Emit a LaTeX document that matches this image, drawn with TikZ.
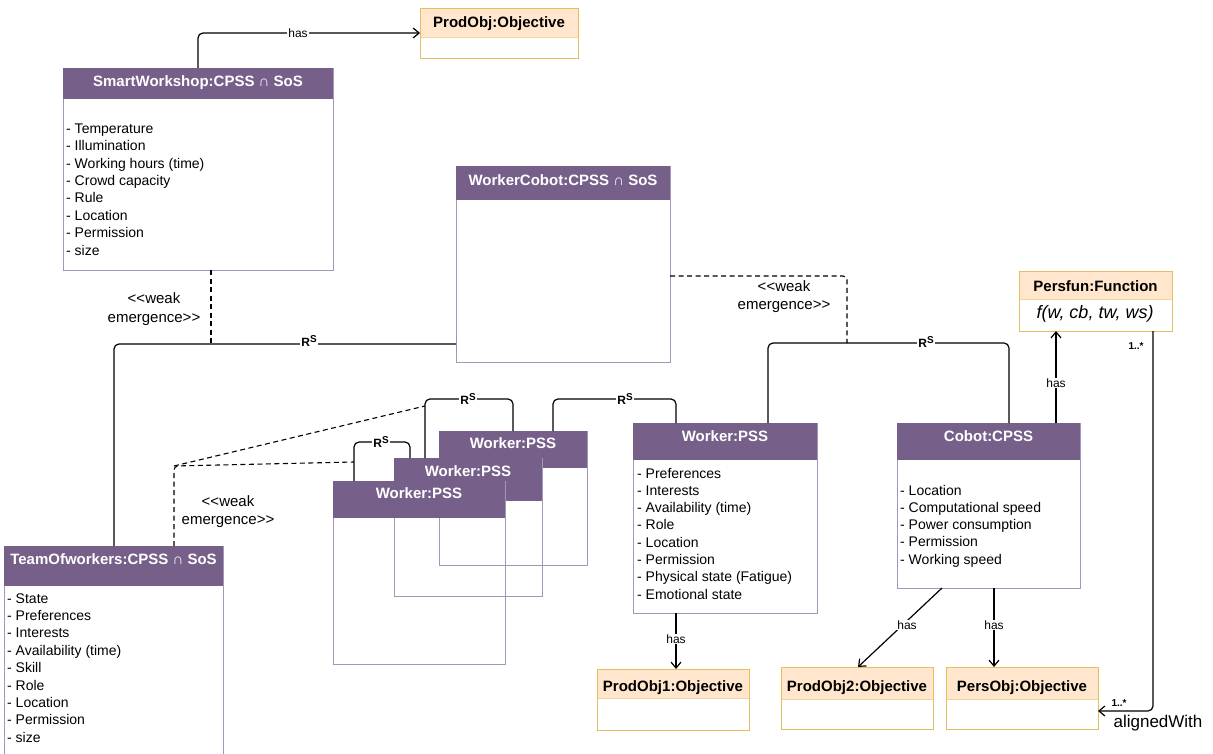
\documentclass[tikz,border=0pt]{standalone}
\usepackage{fontspec}
\setmainfont{Liberation Sans}
\usetikzlibrary{arrows.meta,calc}
\definecolor{hdrp}{HTML}{76608A}
\definecolor{bstroke}{HTML}{A396B8}
\definecolor{objfill}{HTML}{FFE6CC}
\definecolor{objstroke}{HTML}{E3BE62}
\definecolor{objsep}{HTML}{F3D3A0}
\newcommand{\fattr}{\fontsize{14}{17}\selectfont}
\newcommand{\fttl}{\bfseries\fontsize{15}{18}\selectfont}
\newcommand{\rsup}{\textbf{R}\raisebox{4.5pt}{\fontsize{10}{10}\selectfont\textbf{S}}}
\newcommand{\umlbox}[8]{%
  \node[bodybox, minimum width={#4-#2}, minimum height={#5-#3}] (#1) at (#2,#3) {};
  \fill[hdrp] (#2,#3) rectangle (#4,#6);
  \node[ttl] (#1-t) at ({(#2+#4)/2},#8) {#7};
}
\newcommand{\objbox}[8]{%
  \fill[objfill] (#2,#3) rectangle (#4,#6);
  \draw[objsep, line width=0.8pt] (#2,#6) -- (#4,#6);
  \node[objbody, minimum width={#4-#2}, minimum height={#5-#3}] (#1) at (#2,#3) {};
  \node[objttl] (#1-t) at ({(#2+#4)/2},#8) {#7};
}
\tikzset{
  bodybox/.style={draw=bstroke, line width=0.8pt, anchor=north west, inner sep=0pt, outer sep=0pt},
  objbody/.style={draw=objstroke, line width=0.9pt, anchor=north west, inner sep=0pt, outer sep=0pt},
  ttl/.style={text=white, font=\fttl, anchor=base, inner sep=0pt},
  objttl/.style={text=black, font=\fttl, anchor=base, inner sep=0pt},
  attr/.style={font=\fattr, anchor=base west, inner sep=0pt},
  conn/.style={line width=1.2pt, rounded corners=5pt},
  arr/.style={conn, -{Straight Barb[length=6pt,width=10pt,line width=1.2pt]}},
  dsh/.style={line width=1.1pt, dash pattern=on 5pt off 3.5pt, rounded corners=4pt},
  haslbl/.style={font=\fontsize{12}{14}\selectfont, fill=white, inner sep=1pt},
  rslbl/.style={font=\fontsize{12}{14}\selectfont, fill=white, inner sep=1.5pt},
  weak/.style={font=\fontsize{15}{18.5}\selectfont, align=center, inner sep=0pt},
  mult/.style={font=\bfseries\fontsize{10}{11}\selectfont, inner sep=0pt},
}
\begin{document}
\begin{tikzpicture}[x=1pt,y=-1pt]
\clip (0,0) rectangle (1213,754);
\fill[white] (0,0) rectangle (1213,754);

% ---- class boxes ----
\umlbox{sw}{63}{68}{333}{270}{99}{SmartWorkshop:CPSS ∩ SoS}{86.5}
\umlbox{wc}{456}{166}{670}{362}{200}{WorkerCobot:CPSS ∩ SoS}{185.5}
\umlbox{team}{4}{546}{223}{770}{586}{TeamOfworkers:CPSS ∩ SoS}{564.5}
\umlbox{bw}{633}{423}{817}{613}{460}{Worker:PSS}{441.5}
\umlbox{w3}{439}{431}{587}{565}{468}{Worker:PSS}{448.5}
\umlbox{w2}{394}{458}{542}{596}{501}{Worker:PSS}{476.5}
\umlbox{w1}{333}{481}{505}{664}{518}{Worker:PSS}{498.5}
\umlbox{cobot}{897}{423}{1080}{588}{460}{Cobot:CPSS}{441.5}

% ---- objective boxes ----
\objbox{prodobj}{420}{8}{578}{58}{37}{ProdObj:Objective}{27.5}
\objbox{pf}{1019}{271}{1172}{331}{299}{Persfun:Function}{291.5}
\objbox{po1}{597}{669}{749}{730}{698}{ProdObj1:Objective}{691.5}
\objbox{po2}{781}{667}{933}{729}{699}{ProdObj2:Objective}{691.5}
\objbox{pso}{946}{667}{1098}{729}{699}{PersObj:Objective}{691.5}
\node[font=\itshape\fontsize{18}{20}\selectfont, inner sep=0pt] (pf-f) at (1095,314) {f(w, cb, tw, ws)};

% ---- attributes ----
\foreach \t [count=\i from 0] in {- Temperature,- Illumination,- Working hours (time),- Crowd capacity,- Rule,- Location,- Permission,- size}
  \node[attr] (sw-a\i) at (66,{133.3+17.4*\i}) {\t};
\foreach \t [count=\i from 0] in {- Preferences,- Interests,- Availability (time),- Role,- Location,- Permission,- Physical state (Fatigue),- Emotional state}
  \node[attr] (bw-a\i) at (637,{478+17.3*\i}) {\t};
\foreach \t [count=\i from 0] in {- Location,- Computational speed,- Power consumption,- Permission,- Working speed}
  \node[attr] (cobot-a\i) at (900,{495+17.25*\i}) {\t};
\foreach \t [count=\i from 0] in {- State,- Preferences,- Interests,- Availability (time),- Skill,- Role,- Location,- Permission,- size}
  \node[attr] (team-a\i) at (7,{603+17.4*\i}) {\t};

% ---- junction coordinates ----
\coordinate (swjoin) at (211,344);
\coordinate (wcjoin) at (847,343);
\coordinate (tj) at (174,466);
\coordinate (j1) at (354,462);
\coordinate (j2) at (425,406);

% ---- connectors ----
\draw[arr] ([xshift=135pt]sw.north west) |- (prodobj.west);
\node[haslbl] (l-has0) at (298,33) {has};

\draw[conn] ([xshift=110pt]team.north west) |- ([yshift=-178pt]wc.north west);
\node[rslbl] (l-rs0) at (309,341) {\rsup};
\draw[dsh] ([xshift=148pt]sw.south west) -- (swjoin);
\node[weak] (l-we0) at (154,309) {<\kern0pt<weak\\emergence>\kern0pt>};

\draw[conn] ([xshift=135pt]bw.north west) -- ++(0,-80) -| ([xshift=112pt]cobot.north west);
\node[rslbl] (l-rs1) at (926,342) {\rsup};
\draw[dsh] ([yshift=-110pt]wc.north east) -| (wcjoin);
\node[weak] (l-we1) at (784,296.5) {<\kern0pt<weak\\emergence>\kern0pt>};

\draw[conn] ([xshift=21pt]w1.north west) -- ++(0,-39) -| ([xshift=16pt]w2.north west);
\node[rslbl] (l-rs2) at (381,442) {\rsup};
\draw[conn] ([xshift=31pt]w2.north west) -- ++(0,-59) -| ([xshift=74pt]w3.north west);
\node[rslbl] (l-rs3) at (468,399) {\rsup};
\draw[conn] ([xshift=114pt]w3.north west) -- ++(0,-32) -| ([xshift=43pt]bw.north west);
\node[rslbl] (l-rs4) at (625,399) {\rsup};

\draw[dsh] ([xshift=170pt]team.north west) -- (tj) -- (j1);
\draw[dsh] (tj) -- (j2);
\node[weak] (l-we2) at (228,511.5) {<\kern0pt<weak\\emergence>\kern0pt>};

\draw[arr] ([xshift=43pt]bw.south west) -- ([xshift=79pt]po1.north west);
\node[haslbl] (l-has1) at (676,639) {has};

\draw[arr] ([xshift=45pt]cobot.south west) -- ([xshift=77pt]po2.north west);
\node[haslbl] (l-has2) at (907,625) {has};
\draw[arr] ([xshift=97pt]cobot.south west) -- ([xshift=48pt]pso.north west);
\node[haslbl] (l-has3) at (994,625) {has};

\draw[arr] ([xshift=159pt]cobot.north west) -- ([xshift=37pt]pf.south west);
\node[haslbl] (l-has4) at (1056,383) {has};

\draw[arr] ([xshift=134pt]pf.south west) |- ([yshift=-44pt]pso.north east);
\node[mult] (l-m0) at (1136,346) {1..*};
\node[mult] (l-m1) at (1119,703) {1..*};
\node[font=\fontsize{17}{20}\selectfont, inner sep=0pt] (l-al) at (1158,723) {alignedWith};
\end{tikzpicture}
\end{document}
